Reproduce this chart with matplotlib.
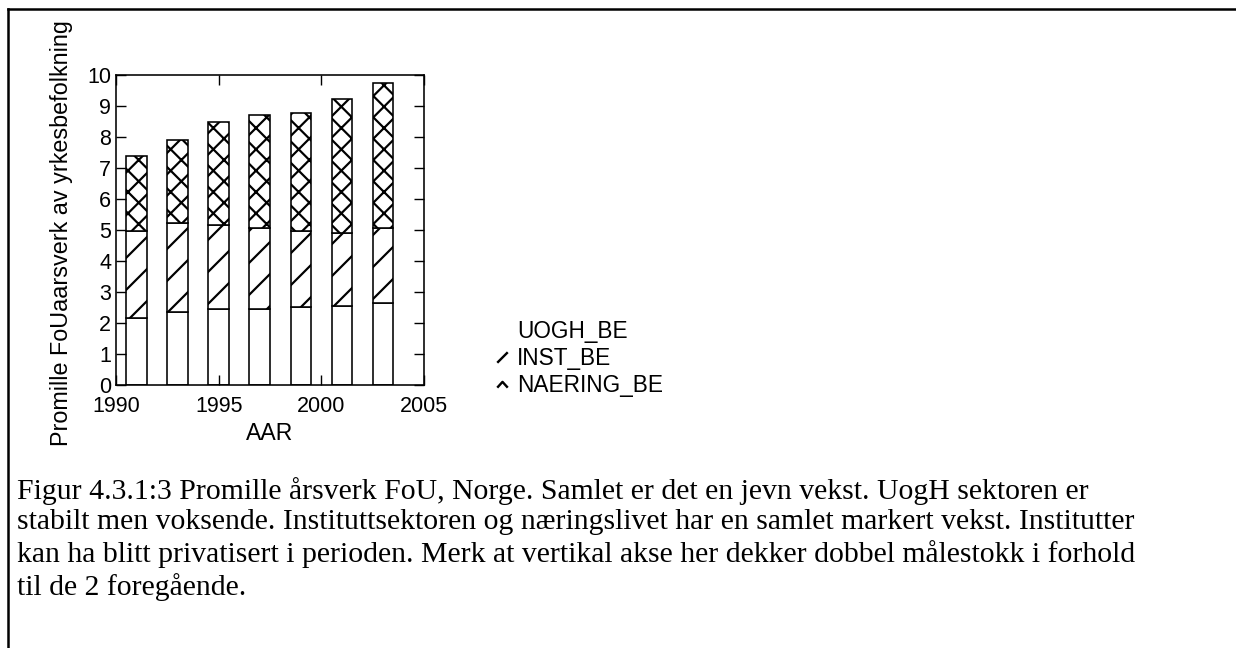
import matplotlib

matplotlib.use("Agg")
import matplotlib.pyplot as plt
from matplotlib.lines import Line2D
from matplotlib.path import Path

# values (promille, stacked)
years = [1991, 1993, 1995, 1997, 1999, 2001, 2003]
uogh_be = [2.15, 2.37, 2.46, 2.46, 2.52, 2.54, 2.65]
inst_be = [2.81, 2.86, 2.69, 2.62, 2.46, 2.37, 2.41]
naering_be = [2.42, 2.68, 3.33, 3.64, 3.80, 4.31, 4.67]
series_names = ["UOGH_BE", "INST_BE", "NAERING_BE"]

caption_lines = [
    "Figur 4.3.1:3 Promille årsverk FoU, Norge. Samlet er det en jevn vekst. UogH sektoren er",
    "stabilt men voksende. Instituttsektoren og næringslivet har en samlet markert vekst. Institutter",
    "kan ha blitt privatisert i perioden. Merk at vertikal akse her dekker dobbel målestokk i forhold",
    "til de 2 foregående.",
]

# hatch spacing scales with dpi, so dpi is chosen to get the coarse hatching of the original
DPI = 192
W, H = 1236, 648
PX = 72 / DPI  # points per output pixel

plt.rcParams["font.family"] = ["Liberation Sans", "DejaVu Sans"]
plt.rcParams["hatch.linewidth"] = 2.2 * PX
plt.rcParams["hatch.color"] = "black"

fig = plt.figure(figsize=(W / DPI, H / DPI), dpi=DPI)
ax = fig.add_axes([116 / W, 1 - 385 / H, 308 / W, 310 / H])

bottom2 = [a + b for a, b in zip(uogh_be, inst_be)]
bar_kw = dict(width=1.0, edgecolor="black", linewidth=1.6 * PX, facecolor="white")
ax.bar(years, uogh_be, **bar_kw)
ax.bar(years, inst_be, bottom=uogh_be, hatch="//", **bar_kw)
ax.bar(years, naering_be, bottom=bottom2, hatch="xxx", **bar_kw)

ax.set_xlim(1990, 2005)
ax.set_ylim(0, 10)
ax.set_xticks([1990, 1995, 2000, 2005])
ax.set_yticks(range(0, 11))
ax.tick_params(direction="in", top=True, right=True, length=10 * PX, width=1.4 * PX,
               labelsize=21.5 * PX)
ax.tick_params(axis="x", pad=11 * PX)
ax.tick_params(axis="y", pad=5 * PX)
for s in ax.spines.values():
    s.set_linewidth(1.6 * PX)

ax.set_xlabel("AAR", fontsize=23 * PX)
ax.xaxis.set_label_coords(0.5, -(422 - 385) / 310)
ax.set_ylabel("Promille FoUaarsverk av yrkesbefolkning", fontsize=23.4 * PX)
ax.yaxis.set_label_coords(-0.138, 0.49)

# small legend keys like the original: blank, a slash, and a caret
slash = Path([(-1, -1), (1, 1)], [Path.MOVETO, Path.LINETO])
caret = Path([(-1, -0.6), (0, 0.5), (1, -0.6)], [Path.MOVETO, Path.LINETO, Path.LINETO])
key_kw = dict(linestyle="none", color="black", markerfacecolor="none",
              markeredgewidth=2.4 * PX, markersize=10.5 * PX)
handles = [
    Line2D([], [], linestyle="none"),
    Line2D([], [], marker=slash, **key_kw),
    Line2D([], [], marker=caret, **key_kw),
]
fs_leg = 22.7 * PX
fig.legend(handles, series_names, loc="center left",
           bbox_to_anchor=(493 / W, 1 - 358.5 / H), frameon=False, fontsize=fs_leg,
           handlelength=0.75, handletextpad=0.3, labelspacing=0.19, borderpad=0,
           borderaxespad=0, numpoints=1)

fig.text(17 / W, 1 - 477 / H, "\n".join(caption_lines), family="Liberation Serif",
         fontsize=29.8 * PX, va="top", ha="left", linespacing=1.22)

# frame of the original page (top and left edges only)
fig.add_artist(Line2D([8 / W, 1], [1 - 9 / H, 1 - 9 / H], transform=fig.transFigure,
                      color="black", linewidth=2.5 * PX))
fig.add_artist(Line2D([8 / W, 8 / W], [0, 1 - 9 / H], transform=fig.transFigure,
                      color="black", linewidth=2.5 * PX))

fig.savefig("out.png", dpi=DPI)
